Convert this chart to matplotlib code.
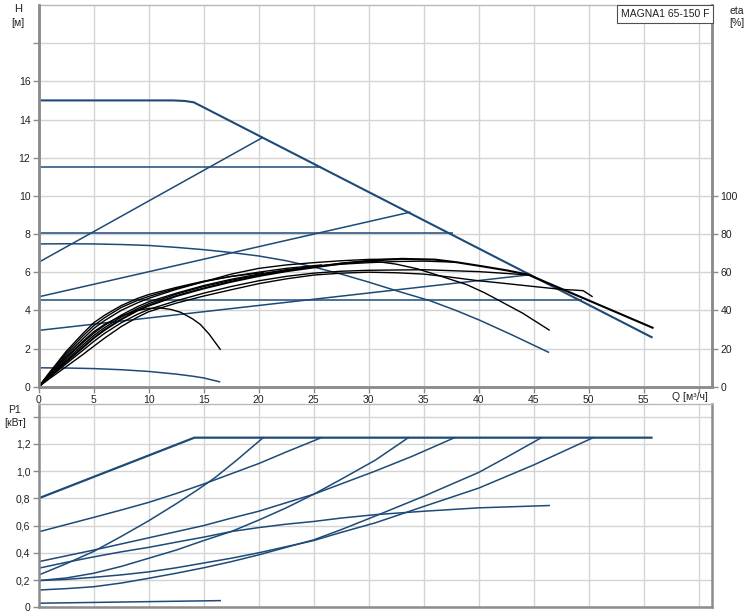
import matplotlib
matplotlib.use('Agg')
import matplotlib.pyplot as plt

plt.rcParams['font.family'] = ['Liberation Sans', 'DejaVu Sans']
plt.rcParams['font.size'] = 7.5

BLUE = '#1d4a78'
GRID = '#d4d4d4'
SPINE = '#8c8c8c'
TXT = '#202020'

# ---------------- H (head) curves, m ----------------
h_max_q = [0, 12.2, 13.3, 14.1, 55.8]
h_max_h = [15.0, 15.0, 14.97, 14.9, 2.57]
h_cp11_q = [0, 25.7]
h_cp11_h = [11.5, 11.5]
h_cp8_q = [0, 37.7]
h_cp8_h = [8.03, 8.03]
h_cp45_q = [0, 49.4]
h_cp45_h = [4.52, 4.52]
h_pp1_q = [0, 20.4]
h_pp1_h = [6.52, 13.07]
h_pp2_q = [0, 33.8]
h_pp2_h = [4.71, 9.15]
h_pp3_q = [0, 44.7]
h_pp3_h = [2.95, 5.87]
h_fix_q = [0, 2.5, 5, 7.5, 10, 12.5, 15, 17.5, 20, 22.5, 25, 27.5, 30, 32.5, 35.6, 38, 40.1, 43, 46.4]
h_fix_h = [7.48, 7.49, 7.48, 7.45, 7.4, 7.3, 7.18, 7.03, 6.85, 6.6, 6.27, 5.9, 5.48, 5.03, 4.5, 3.98, 3.48, 2.72, 1.79]
h_min_q = [0, 2.5, 5, 7.5, 10, 12.5, 14, 15, 16.5]
h_min_h = [0.99, 0.98, 0.95, 0.89, 0.8, 0.66, 0.55, 0.46, 0.25]

# ---------------- eta curves, % ----------------
e_max_q = [0, 1, 2.5, 4, 5, 6, 7.5, 9, 10, 12.5, 15, 17.5, 20, 22.5, 25, 27.5, 30, 33, 36, 38, 40.3, 42.5, 44.5, 50, 55.8]
e_max_v = [0, 5.3, 13, 20.5, 25.5, 29.8, 35.3, 40, 42.5, 47.5, 51.5, 55, 58, 60.5, 62.5, 64.5, 66, 67, 66.6, 65.2, 63.1, 61, 58.7, 45.2, 30.9]
e_pp1_q = [0, 1, 2.5, 4, 5, 6, 7.5, 9, 10, 12.5, 15, 17.5, 20.4]
e_pp1_v = [0, 7.6, 18.5, 27.8, 33.5, 37.5, 42.5, 46.3, 48.3, 52, 55.3, 57.8, 59.8]
e_cp11_q = [0, 1, 2.5, 4, 5, 6, 7.5, 9, 10, 12.5, 15, 17.5, 20, 22.5, 25.7]
e_cp11_v = [0, 7.2, 17.5, 26.5, 32, 36.2, 41.5, 45.3, 47.3, 51.5, 55, 57.8, 60, 62, 63.8]
e_pp2_q = [0, 1, 2.5, 4, 5, 6, 7.5, 9, 10, 12.5, 15, 17.5, 20, 22.5, 25, 27.5, 30, 33.8]
e_pp2_v = [0, 6.8, 16.5, 25, 30.5, 34.7, 40, 44, 46.3, 51, 55, 59, 62, 63.8, 65, 66, 66.7, 67]
e_cp8_q = [0, 1, 2.5, 4, 5, 6, 7.5, 9, 10, 12.5, 15, 17.5, 20, 22.5, 25, 27.5, 30, 32.5, 35, 37.7]
e_cp8_v = [0, 6.1, 15, 23, 28, 32.2, 37.5, 42, 44.5, 49, 53, 56.3, 59, 61.3, 63, 64.2, 65, 65.6, 65.8, 65.3]
e_fix_q = [0, 1, 2.5, 4, 5, 6, 7.5, 9, 10, 12.5, 15, 17.5, 20, 22.5, 25, 28, 30, 31, 32.5, 34.4, 36.5, 38.9, 40.5, 41.9, 44, 46.4]
e_fix_v = [0, 5.7, 14, 21.8, 26.8, 31, 36.5, 41, 43.5, 48.5, 52.5, 55.8, 58.5, 61, 63, 65, 65.5, 65.4, 64.2, 61.8, 58, 53.5, 49.3, 45, 38.5, 29.7]
e_pp3_q = [0, 1, 2.5, 4, 5, 6, 7.5, 9, 10, 12.5, 15, 17.5, 20, 22.5, 25, 27.5, 30, 35, 40, 44.7]
e_pp3_v = [0, 4.9, 12, 19, 23.7, 28, 33.5, 38, 40.5, 45, 49, 52.5, 55.5, 57.8, 59.5, 60.5, 61, 61.3, 60.3, 58.5]
e_cp45_q = [0, 1, 2.5, 4, 5, 6, 7.5, 9, 10, 12.5, 15, 17.5, 20, 22.5, 25, 27.5, 30, 32.5, 35, 37.3, 40, 41.9, 45, 47.5, 48.8, 49.5, 50.3]
e_cp45_v = [0, 4.3, 10.5, 16.8, 21.2, 25.5, 31.5, 36.5, 39.3, 43.8, 47.5, 50.8, 54, 56.5, 58.5, 59.5, 60, 59.7, 59, 57.5, 55.5, 54.4, 52.5, 51, 50.6, 50.3, 47.3]
e_min_q = [0, 1, 2.5, 4, 5, 6, 7.5, 9, 10, 11, 12, 12.9, 14, 14.7, 15.5, 16.5]
e_min_v = [0, 6.4, 15.5, 23.7, 28.8, 32.7, 37, 40, 41, 41.3, 40.5, 39, 35.5, 32.6, 27.5, 19.6]

# ---------------- P1 curves, kW ----------------
p_max_q = [0, 14.15, 55.7]
p_max_p = [0.80, 1.245, 1.245]
p_cp11_q = [0, 2.5, 5, 7.5, 10, 12.5, 15, 17.5, 20, 22.5, 25.7]
p_cp11_p = [0.554, 0.607, 0.66, 0.714, 0.77, 0.835, 0.905, 0.98, 1.055, 1.14, 1.245]
p_pp1_q = [0, 2.5, 5, 7.5, 10, 12.5, 14.4, 16, 18, 20.4]
p_pp1_p = [0.237, 0.32, 0.41, 0.52, 0.635, 0.76, 0.86, 0.95, 1.08, 1.245]
p_cp8_q = [0, 5, 10, 15, 17.5, 20, 25, 30.6, 34, 37.8]
p_cp8_p = [0.335, 0.42, 0.51, 0.6, 0.654, 0.705, 0.83, 1.0, 1.11, 1.245]
p_pp2_q = [0, 2.5, 5, 7.5, 10, 12.5, 15, 17.5, 20, 22.5, 25, 27.5, 30.6, 33.6]
p_pp2_p = [0.196, 0.215, 0.25, 0.3, 0.36, 0.42, 0.49, 0.556, 0.64, 0.73, 0.83, 0.94, 1.08, 1.245]
p_fix_q = [0, 2.5, 5, 7.5, 10, 12.5, 15, 17.5, 20, 22.5, 25, 27.5, 30.6, 35, 40, 46.4]
p_fix_p = [0.287, 0.33, 0.37, 0.407, 0.44, 0.478, 0.515, 0.556, 0.585, 0.61, 0.63, 0.655, 0.68, 0.705, 0.73, 0.747]
p_pp3_q = [0, 2.5, 5, 7.5, 10, 12.5, 15, 17.5, 20, 22.5, 25, 27.5, 30.6, 35, 40, 42.5, 45.7]
p_pp3_p = [0.127, 0.137, 0.151, 0.178, 0.213, 0.25, 0.29, 0.335, 0.385, 0.44, 0.495, 0.57, 0.67, 0.815, 0.99, 1.1, 1.245]
p_cp45_q = [0, 2.5, 5, 7.5, 10, 12.5, 15, 17.5, 20, 22.5, 25, 27.5, 30.6, 35, 40, 45, 50.4]
p_cp45_p = [0.196, 0.205, 0.22, 0.238, 0.26, 0.29, 0.325, 0.36, 0.4, 0.445, 0.49, 0.55, 0.62, 0.74, 0.875, 1.045, 1.245]
p_min_q = [0, 16.5]
p_min_p = [0.03, 0.049]

x_ticks = [0, 5, 10, 15, 20, 25, 30, 35, 40, 45, 50, 55, 60]
x_labels = ['0', '5', '10', '15', '20', '25', '30', '35', '40', '45', '50', '55', '']
h_ticks = [0, 2, 4, 6, 8, 10, 12, 14, 16, 18]
h_labels = ['0', '2', '4', '6', '8', '10', '12', '14', '16', '']
eta_ticks = [0, 20, 40, 60, 80, 100]
eta_labels = ['0', '20', '40', '60', '80', '100']
p_ticks = [0, 0.2, 0.4, 0.6, 0.8, 1.0, 1.2, 1.4]
p_labels = ['0', '0,2', '0,4', '0,6', '0,8', '1,0', '1,2', '']

fig = plt.figure(figsize=(7.5, 6.15), dpi=100)
ax1 = fig.add_axes([0.0516, 0.3712, 0.8977, 0.6207])
ax2 = fig.add_axes([0.0516, 0.01252, 0.8977, 0.3301])


def style(ax):
    ax.set_axisbelow(True)
    ax.grid(True, color=GRID, linewidth=1.0)
    for s in ['left', 'bottom', 'right']:
        ax.spines[s].set_color(SPINE)
        ax.spines[s].set_linewidth(1.8)
    ax.spines['top'].set_color('#b8b8b8')
    ax.spines['top'].set_linewidth(1.0)
    ax.tick_params(colors=SPINE, labelcolor=TXT, length=4, width=1, pad=2, labelsize=7.5)


# ---- top panel ----
style(ax1)
ax1.set_xlim(0, 61.2)
ax1.set_ylim(0, 20)
ax1.set_xticks(x_ticks)
ax1.set_xticklabels(x_labels)
ax1.set_yticks(h_ticks)
ax1.set_yticklabels(h_labels)

lw_b = 1.1
for q, h in [(h_cp11_q, h_cp11_h), (h_cp8_q, h_cp8_h), (h_cp45_q, h_cp45_h),
             (h_pp1_q, h_pp1_h), (h_pp2_q, h_pp2_h), (h_pp3_q, h_pp3_h),
             (h_fix_q, h_fix_h), (h_min_q, h_min_h)]:
    ax1.plot(q, h, color=BLUE, lw=lw_b, solid_capstyle='butt')
ax1.plot(h_max_q, h_max_h, color=BLUE, lw=1.5, solid_capstyle='butt')

ax1b = ax1.twinx()
ax1b.set_ylim(0, 200)
ax1b.set_yticks(eta_ticks)
ax1b.set_yticklabels(eta_labels)
for s in ['left', 'bottom', 'right']:
    ax1b.spines[s].set_color(SPINE)
    ax1b.spines[s].set_linewidth(1.8)
ax1b.spines['top'].set_visible(False)
ax1b.tick_params(colors=SPINE, labelcolor=TXT, length=4, width=1, pad=2, labelsize=7.5)

for q, e in [(e_pp1_q, e_pp1_v), (e_cp11_q, e_cp11_v), (e_pp2_q, e_pp2_v),
             (e_cp8_q, e_cp8_v), (e_fix_q, e_fix_v), (e_pp3_q, e_pp3_v),
             (e_cp45_q, e_cp45_v), (e_min_q, e_min_v)]:
    ax1b.plot(q, e, color='black', lw=1.0)
ax1b.plot(e_max_q, e_max_v, color='black', lw=1.5)

# ---- bottom panel ----
style(ax2)
ax2.set_xlim(0, 61.2)
ax2.set_ylim(0, 1.49)
ax2.set_xticks(x_ticks)
ax2.set_xticklabels([])
ax2.tick_params(axis='x', length=0)
ax2.set_yticks(p_ticks)
ax2.set_yticklabels(p_labels)

for q, p in [(p_cp11_q, p_cp11_p), (p_pp1_q, p_pp1_p), (p_cp8_q, p_cp8_p),
             (p_pp2_q, p_pp2_p), (p_fix_q, p_fix_p), (p_pp3_q, p_pp3_p),
             (p_cp45_q, p_cp45_p), (p_min_q, p_min_p)]:
    ax2.plot(q, p, color=BLUE, lw=lw_b)
ax2.plot(p_max_q, p_max_p, color=BLUE, lw=1.6)

# ---- labels ----
W, H = 750.0, 615.0


def ftxt(x, y, s, size=7.5, **kw):
    fig.text(x / W, 1 - y / H, s, color=TXT, fontsize=size, **kw)


ftxt(18, 9, 'H', size=8, ha='center', va='center')
ftxt(18, 23, '[м]', ha='center', va='center')
ftxt(737, 11, 'eta', ha='center', va='center')
ftxt(737, 23, '[%]', ha='center', va='center')
ftxt(14, 410, 'P1', ha='center', va='center')
ftxt(15, 423, '[кВт]', ha='center', va='center')
ftxt(690, 397, 'Q [м³/ч]', ha='center', va='center')
ftxt(665, 14, 'MAGNA1 65-150 F', ha='center', va='center',
     bbox=dict(boxstyle='square,pad=0.35', facecolor='white', edgecolor='#505050', linewidth=0.8))

fig.savefig('out.png', dpi=100)
